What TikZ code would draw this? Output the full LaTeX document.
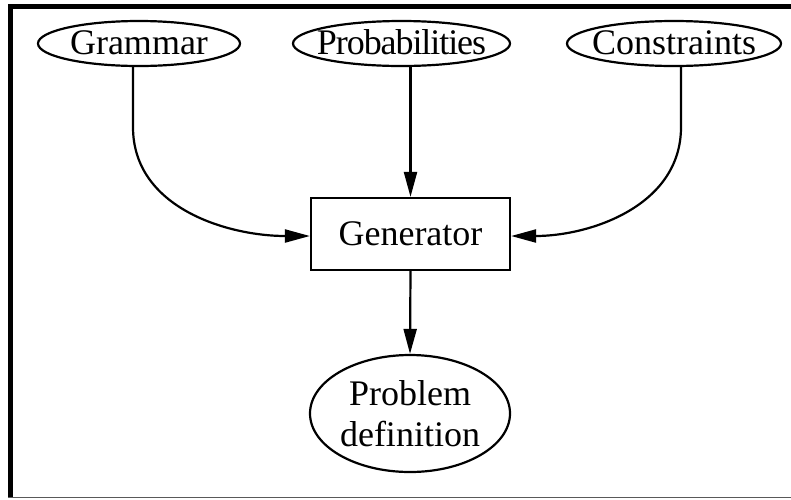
\documentclass[tikz,border=0pt]{standalone}
\usepackage{fontspec}
\setmainfont{Liberation Serif}
\usetikzlibrary{shapes.geometric,arrows.meta,calc}
% centred text that does not widen its shape
\newcommand{\tight}[1]{\makebox[0pt]{#1}}
\begin{document}
\begin{tikzpicture}[x=1pt,y=-1pt,
  every node/.style={font=\fontsize{36}{41}\selectfont, inner sep=0pt},
  oval/.style={ellipse, draw, line width=2.2pt, align=center},
  lineoval/.style={oval, text height=22pt, text depth=0pt},
  box/.style={rectangle, draw, line width=2.2pt},
  flow/.style={line width=2.2pt, -{Triangle[length=25pt,width=13pt]}}]
  \useasboundingbox (0,0) rectangle (791,499);
  % frame
  \draw[line width=5pt] (10.5,497) -- (10.5,6) -- (791,6);
  \draw[line width=1.5pt, gray!70!black] (8,497.5) -- (791,497.5);
  % inputs
  \node[lineoval, minimum width=202pt, minimum height=45pt] (gram) at (139,43.5) {\tight{Grammar}};
  \node[lineoval, minimum width=217pt, minimum height=45pt] (prob) at (401.5,43.5) {\tight{\addfontfeature{LetterSpace=-3}Probabilities}};
  \node[lineoval, minimum width=214pt, minimum height=45pt] (cons) at (674,43.5) {\tight{Constraints}};
  % generator and output
  \node[box, minimum width=199pt, minimum height=72pt] (gen) at (410.5,234) {Generator};
  \node[oval, minimum width=200pt, minimum height=117pt] (pdef) at (410,413.5) {\tight{Problem}\\\tight{definition}};
  % connectors
  \draw[flow] ($(gram.south)+(-6,0)$) -- ++(0,60) to[out=-90,in=180] ($(gen.west)+(0,2)$);
  \draw[flow] (prob.south -| gen.north) -- (gen.north);
  \draw[flow] ($(cons.south)+(7,0)$) -- ++(0,60) to[out=-90,in=0] ($(gen.east)+(0,2)$);
  \draw[flow] (gen.south) -- (pdef.north);
\end{tikzpicture}
\end{document}
